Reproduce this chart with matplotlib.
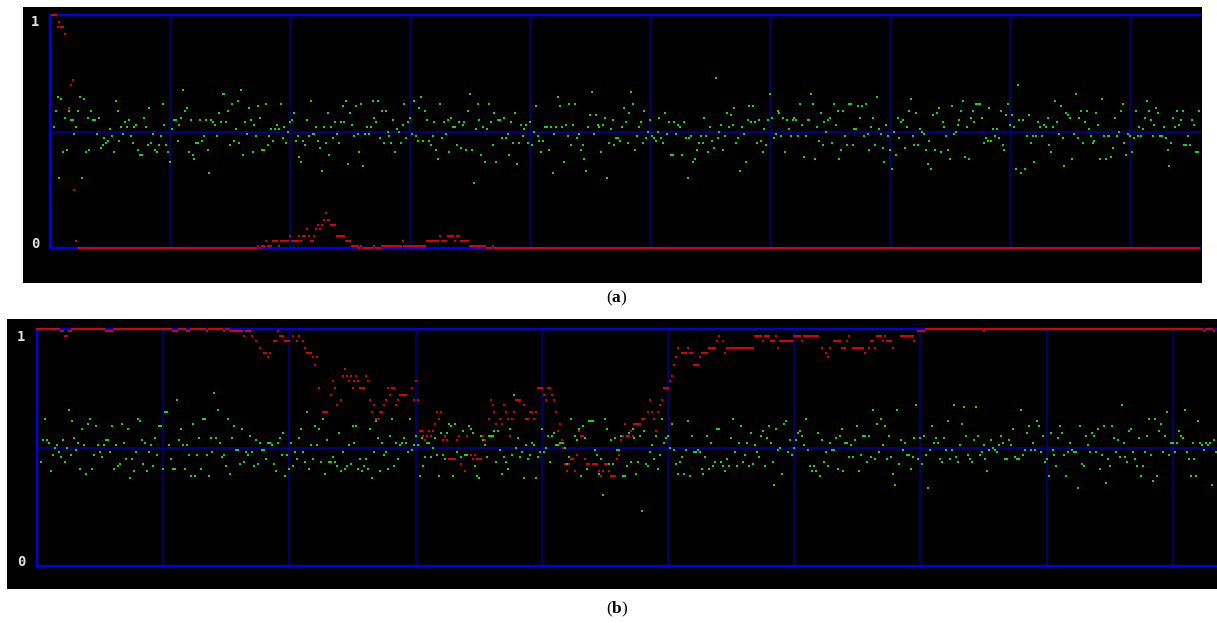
import numpy as np
import matplotlib
matplotlib.use('Agg')
import matplotlib.pyplot as plt

nan = float('nan')

# ---------------- data (values in hundredths of the 0..1 scale) ----------------
green_a = [
    nan, nan, 52, 59, 65, 30, 64, 41, 56, 42, 59, 55, 55, 49, 52, 59, 65, 30, 64, 41, 56, 42,
    59, 55, 55, 49, 56, 43, 44, 47, 45, 46, 51, 48, 41, 63, 59, 46, 52, 49, 54, 52, 55, 48,
    45, 52, 53, 42, 40, 40, 56, 52, 44, 60, 45, 49, 42, 41, 44, 48, 62, 53, 44, 41,
    37, 51, 55, 55, 46, 53, 56, 68, 59, 60, 41, 55, 40, 38, 45, 45, 55, 46, 48, 55, 42, 32,
    55, 54, 53, 48, 58, 54, 66, 66, 54, 59, 44, 62, 46, 51, 63, 45, 68, 40, 54, 49, 60, 55,
    41, 53, 48, 61, 56, 42, 42, 62, 44, 48, 51, 46, 51, 53, 51, 62, 47, 52, 45, 50,
    54, 55, 58, 46, 48, 39, 37, 46, 44, 55, 48, 63, 49, 49, 52, 46, 43, 33, 52, 45, 58, 40,
    52, 47, 54, 49, 45, 54, 61, 54, 63, 36, 58, 53, 48, 61, 49, 41, 62, 35, 49, 52, 49, 52,
    63, 56, 54, 63, 47, 59, 45, 59, 50, 48, 45, 55, 41, 51, 50, 45, 53, 62, 47, 54,
    56, 49, 63, 48, 46, 60, 65, 46, 59, 55, 46, 44, 48, 54, 42, 38, 62, 47, 54, 49, 55, 41,
    56, 52, 52, 44, 54, 43, 53, 54, 42, 59, 66, 42, 28, 51, 62, 55, 40, 52, 37, 51, 62, 54,
    44, 58, 37, 55, 55, 47, 56, 47, 49, 40, 54, 45, 58, 36, 45, 53, 48, 51, 53, 45,
    54, 44, 50, 61, 48, 46, 41, 46, 52, 52, 42, 52, 32, 49, 52, 65, 61, 52, 37, 53, 48, 62,
    44, 53, 62, 47, 49, 42, 44, 38, 33, 52, 57, 67, 49, 57, 53, 52, 41, 53, 56, 30, 45, 51,
    55, 44, 47, 47, 46, 52, 60, 54, 45, 58, 67, 62, 42, 48, 52, 54, 45, 59, 47, 50,
    55, 48, 47, 46, 50, 56, 47, 45, 58, 49, 54, 40, 40, 54, 49, 53, 52, 40, 54, 47, 30, 47,
    48, 37, 38, 42, 45, 48, 45, 56, 48, 41, 52, 46, 43, 73, 47, 50, 53, 42, 48, 58, 52, 57,
    53, 60, 45, 47, 33, 52, 49, 37, 55, 61, 54, 61, 54, 45, 55, 46, 41, 51, 44, 55,
    66, 56, 47, 49, 59, 58, 48, 56, 41, 55, 51, 48, 55, 56, 55, 48, 62, 53, 39, 48, 55, 55,
    66, 62, 38, 52, 46, 58, 44, 54, 50, 55, 56, 45, 62, 53, 59, 38, 42, 59, 48, 44, 62, 62,
    44, 51, 51, 61, 56, 61, 48, 62, 49, 42, 52, 56, 44, 65, 51, 49, 43, 37, 53, 48,
    42, 34, 50, 40, 56, 47, 54, 55, 43, 52, 59, 64, 48, 44, 58, 44, 51, 50, 49, 42, 36, 46,
    34, 57, 42, 58, 60, 41, 54, 52, 48, 42, 38, 61, 49, 50, 53, 55, 59, 63, 39, 52, 38, 56,
    59, 54, 62, 62, 62, 56, 45, 47, 46, 60, 46, 51, 48, 51, 47, 59, 44, 42, 57, 62,
    53, 57, 52, 34, 70, 55, 32, 55, 34, 48, 57, 45, 48, 37, 48, 54, 52, 48, 53, 52, 56, 44,
    41, 52, 63, 54, 49, 61, 47, 35, 58, 57, 56, 38, 49, 66, 47, 56, 59, 45, 54, 59, 51, 48,
    45, 46, 58, 53, 38, 64, 48, 38, 48, 48, 39, 43, 56, 48, 50, 59, 62, 45, 40, 49,
    48, 41, 47, 59, 48, 52, 48, 51, 56, 63, 59, 55, 48, 53, 60, 58, 48, 48, 52, 47, 42, 35,
    45, 56, 52, 59, 53, 55, 59, 44, 44, 48, 44, 55, 53, 41, 41, 59,
]

red_a = ([nan, 100, 100, 100, 95, 97, 95, 95, 92, nan, 60, 70, 72, 25, 3]
         + [0] * 96
         + [1, 0, 1, 1, 3, 1, 1, 1, 3, 3,
            3, 1, 3, 3, 3, 3, 3, 5, 3, 3,
            3, 3, 5, 3, 5, 5, 8, 5, 3, 3,
            5, 8, 10, 8, 10, 12, 15, 12, 12, 10,
            10, 10, 5, 5, 5, 5, 5, 3, 3, 3,
            1, 1, 1, 1, 0, 1, 0, 0, 0, 0,
            0, 0, 1, 0, 0, 0, 1, 1, 1, 1,
            1, 1, 1, 1, 1, 1, 1, 3, 1, 1,
            1, 1, 1, 1, 1, 1, 1, 1, 1, 1,
            3, 3, 3, 3, 3, 3, 3, 5, 3, 3,
            3, 5, 5, 5, 5, 3, 5, 5, 3, 3,
            3, 3, 3, 1, 1, 1, 1, 1, 1, 1,
            1, 1, 0, 0, 0, 1]
         + [0] * 377)

green_b = [
    nan, nan, 44, 53, 62, 53, 52, 40, 47, 50, 51, 48, 46, 53, 44, 50, 66, 47, 61, 54, 49, 52,
    41, 58, 51, 39, 60, 62, 41, 47, 59, 51, 48, 46, 51, 53, 53, 48, 59, 41, 51, 42, 43, 60,
    52, 45, 58, 37, 45, 40, 48, 62, 61, 53, 43, 52, 40, 48, 51, 42, 54, 47, 59, 59,
    41, 65, 65, 51, 45, 41, 41, 70, 53, 58, 51, 41, 51, 47, 38, 60, 38, 47, 54, 41, 62, 62,
    47, 38, 54, 48, 73, 54, 66, 52, 46, 47, 42, 62, 39, 54, 59, 49, 49, 43, 58, 44, 48, 47,
    55, 48, 42, 53, 43, 52, 49, 49, 45, 52, 52, 51, 43, 40, 52, 54, 47, 56, 38, 47,
    41, 52, 42, 48, 45, 54, 58, 48, 44, 65, 41, 51, 45, 59, 51, 58, 44, 62, 39, 53, 44, 44,
    46, 44, 42, 56, 40, 48, 41, 42, 51, 43, 59, 52, 59, 41, 45, 40, 42, 45, 41, 58, 37, 48,
    61, 54, 40, 52, 47, 48, 41, 55, 62, 42, 52, 45, 51, 52, 54, 52, 48, 62, 49, 51,
    55, 51, 38, 54, 42, 46, 52, 52, 46, 50, 54, 47, 38, 56, 47, 45, 56, 60, 59, 38, 60, 48,
    55, 46, 57, 47, 47, 59, 58, 56, 42, 38, 37, 55, 53, 51, 46, 55, 55, 55, 57, 44, 57, 49,
    39, 46, 44, 41, 58, 47, 72, 50, 54, 46, 48, 37, 51, 45, 47, 52, 51, 37, 46, 48,
    58, 48, 50, 55, 44, 55, 56, 51, 51, 52, 52, 52, 50, 43, 46, 62, 45, 55, 53, 58, 38, 59,
    54, 41, 61, 61, 61, 49, 47, 39, 45, 30, 62, 58, 43, 53, 43, 54, 49, 49, 55, 38, 38, 42,
    56, 44, 58, 54, 39, 44, 55, 23, 57, 43, 42, 48, 51, 45, 55, 41, 47, 62, 52, 54,
    55, 50, 60, 49, 43, 39, 44, 46, 39, 49, 61, 38, 55, 48, 48, 49, 48, 41, 39, 46, 55, 41,
    52, 42, 44, 58, 58, 44, 42, 40, 45, 42, 54, 62, 48, 42, 52, 59, 44, 47, 52, 42, 56, 43,
    51, 48, 46, 55, 57, 42, 54, 59, 52, 44, 34, 58, 49, 50, 39, 60, 61, 48, 53, 47,
    50, 53, 56, 57, 55, 51, 62, 49, 42, 40, 42, 40, 56, 38, 53, 44, 48, 42, 52, 49, 49, 54,
    41, 55, 58, 40, 52, 52, 46, 51, 46, 53, 59, 40, 47, 55, 55, 44, 55, 46, 66, 45, 60, 48,
    62, 51, 59, 45, 55, 46, 39, 34, 66, 43, 53, 49, 52, 47, 47, 41, 46, 54, 68, 45,
    54, 43, 55, 47, 33, 49, 59, 52, 54, 52, 45, 44, 54, 49, 61, 45, 49, 68, 46, 44, 51, 60,
    67, 55, 47, 45, 44, 53, 67, 55, 47, 48, 51, 45, 40, 49, 53, 50, 49, 48, 51, 55, 52, 45,
    45, 53, 51, 58, 46, 45, 45, 66, 47, 49, 56, 59, 49, 52, 49, 61, 59, 48, 55, 44,
    45, 38, 56, 49, 47, 42, 54, 59, 56, 47, 38, 48, 52, 49, 48, 48, 33, 59, 43, 42, 55, 51,
    48, 56, 55, 48, 58, 41, 47, 59, 35, 45, 42, 59, 54, 48, 53, 46, 68, 52, 46, 44, 57, 58,
    48, 45, 42, 54, 38, 42, 48, 55, 62, 47, 36, 62, 38, 57, 60, 48, 55, 65, 47, 52,
    52, 48, 52, 57, 55, 54, 66, 48, 45, 38, 52, 45, 38, 61, 52, 51, 49, 52, 51, 52, 34, 53, 48,
]

red_b = ([100] * 12 + [99, 99, 97, 97, 99, 99] + [100] * 17 + [99] * 4 + [100] * 30
         + [99] * 3 + [100] * 4 + [99, 99] + [100] * 8 + [99] + [100] * 8 + [99]
         + [100, 100] + [99] * 7
         + [97, 99, 99, 99, 97, nan, 95, nan, 92, nan,
            90, 90, 88, 90, nan, 95, 95, 99, 97, 97,
            97, 95, 95, 95, nan, 97, nan, 95, 97, nan,
            95, 92, 90, 90, 90, 88, 85, 88, 75, nan,
            65, 65, 65, nan, 72, 78, 75, 68, nan, 70,
            80, 83, 80, 78, 80, 75, 78, 80, 78, 75,
            75, 75, 80, 78, 70, 65, 68, 62, 62, 65,
            65, 68, 70, 75, 72, 75, 75, 68, 70, 72,
            72, 72, 72, nan, nan, 75, 70, 78, 70, 57,
            57, 55, 53, 55, 57, 55, 57, 60, 65, 62,
            65, 53, 55, 53, 45, 45, 45, 45, 53, 55,
            43, nan, 40, 55, nan, 47, 45, 47, 45, 45,
            45, 55, 53, nan, 62, 70, 68, 65, 60, nan,
            62, 60, 68, 65, 62, 55, 62, 65, 70, 70,
            70, nan, 68, 62, 62, 65, 65, 62, 65, 75,
            75, 75, 72, 70, 75, 75, 72, 70, 65, 57,
            60, 53, 50, 43, 40, 43, 45, 45, 40, 47,
            57, 55, 55, 45, 43, 43, nan, 43, 43, 43,
            40, 38, 40, 43, 43, 40, 38, 38, 38, 45,
            47, 53, 55, 60, 55, 55, 57, 55, 60, 60,
            60, 60, 62, 62, nan, 65, 70, 65, 62, 57,
            65, 68, 70, 75, 75, 75, 78, 80, 85, 88,
            92, nan, 90, 90, 90, 92, 90, 90, 85, 85,
            85, 88, 90, 90, 90, 90, 92, 92, 92, 92,
            95, 97, nan, 95, 90]
         + [92] * 14 + [97] * 4 + [95] + [97] * 3 + [95] * 3 + [97, 92] + [95] * 7
         + [97] * 4 + [95] + [97] * 8
         + [nan, 92, nan, 90, 88, 92, nan, 95, 95, 95, 95, 92, 92, 92, 95, 97, nan]
         + [92] * 6
         + [90, nan, 92, 95, 95, 92, 97, 97, 97, 95, 97, 95, 95, 95, 92, nan, nan, nan]
         + [97] * 7 + [95, nan] + [99] * 4 + [100] * 29 + [99] + [100] * 111 + [99]
         + [100] * 4 + [99])

level_labels = ['0', '1']
captions = ['a', 'b']

# ---------------- styling ----------------
W, H = 1217, 623
GREEN = '#14d814'
RED = '#dc0000'
BLUE = '#0000e8'
NAVY = '#00008a'
SAMPLES_PER_DIV = 64

plt.rcParams['mathtext.fontset'] = 'custom'
plt.rcParams['mathtext.rm'] = 'Liberation Serif'
plt.rcParams['mathtext.bf'] = 'Liberation Serif:bold'

fig = plt.figure(figsize=(W / 100, H / 100), dpi=100)
fig.patch.set_facecolor('white')


def panel(box, x0, step, y0, y1, green, red, lab_x, lab_y1, lab_y0):
    l, t, r, b = box
    ax = fig.add_axes([l / W, 1 - b / H, (r - l) / W, (b - t) / H])
    ax.set_facecolor('black')
    for s in ax.spines.values():
        s.set_visible(False)
    ax.set_xticks([])
    ax.set_yticks([])
    ppu = y0 - y1
    xmin, xmax = (l - x0) / step, (r - x0) / step
    ax.set_xlim(xmin, xmax)
    ax.set_ylim((y0 - b) / ppu, (y0 - t) / ppu)
    # grid
    for k in range(1, 10):
        ax.plot([k * SAMPLES_PER_DIV] * 2, [0, 1], color=NAVY, lw=1.1, zorder=1)
    ax.plot([0, xmax], [0.5, 0.5], color=NAVY, lw=1.4, zorder=1)
    # frame
    ax.plot([0, 0], [0, 1], color=BLUE, lw=1.7, zorder=2, solid_capstyle='butt')
    ax.plot([0, xmax], [1, 1], color=BLUE, lw=1.7, zorder=2)
    ax.plot([0, xmax], [0, 0], color=BLUE, lw=1.7, zorder=2)
    g = np.array(green, dtype=float) / 100
    rr = np.array(red, dtype=float) / 100
    ax.plot(np.arange(len(g)), g, 's', ms=1.7, mew=0, color=GREEN, zorder=3)
    ax.plot(np.arange(len(rr)), rr, 's', ms=1.65, mew=0, color=RED, zorder=4)
    # level labels
    fx = lab_x / W
    fig.text(fx, 1 - lab_y1 / H, level_labels[1], ha='center', va='center',
             fontsize=10, color='#e2e2e2', family='DejaVu Sans Mono', weight='bold')
    fig.text(fx, 1 - lab_y0 / H, level_labels[0], ha='center', va='center',
             fontsize=10, color='#e2e2e2', family='DejaVu Sans Mono', weight='bold')
    return ax


panel((23, 7, 1202, 283), 50, 120 / 64, 248, 15, green_a, red_a, 35, 22, 244)
panel((7, 319, 1217, 589), 37, 126.2 / 64, 566, 329, green_b, red_b, 21, 337, 562)

fig.text(617 / W, 1 - 298 / H, r'($\mathbf{%s}$)' % captions[0], ha='center', va='center',
         fontsize=12.5, family='Liberation Serif', color='black')
fig.text(617 / W, 1 - 609 / H, r'($\mathbf{%s}$)' % captions[1], ha='center', va='center',
         fontsize=12.5, family='Liberation Serif', color='black')

fig.savefig('out.png', dpi=100, facecolor='white')
